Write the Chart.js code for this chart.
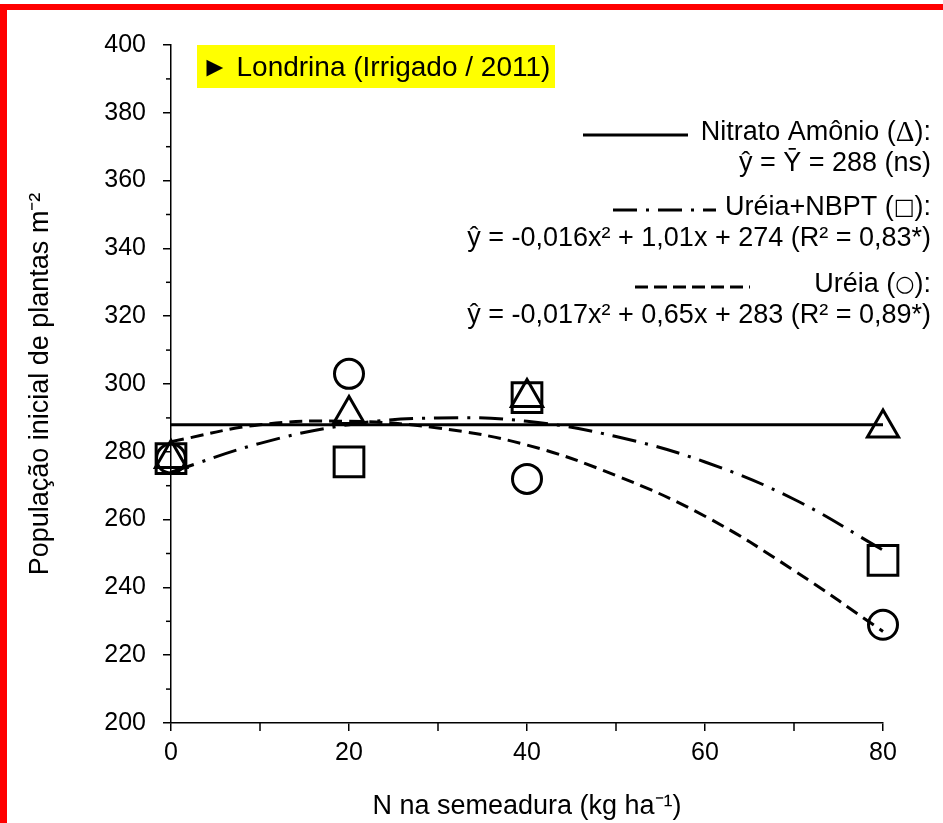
<!DOCTYPE html>
<html>
<head>
<meta charset="utf-8">
<script src="https://cdn.jsdelivr.net/npm/chart.js@4.4.0/dist/chart.umd.min.js"></script>
<style>
  html, body { margin: 0; padding: 0; background: #fff; }
  #wrap { position: relative; width: 943px; height: 823px; overflow: hidden; }
  #frame { position: absolute; left: 0; top: 4px; width: 943px; height: 819px;
           border-left: 7px solid #ff0000; border-top: 6px solid #ff0000;
           box-sizing: border-box; pointer-events: none; }
</style>
</head>
<body>
<div id="wrap">
  <canvas id="myChart" width="943" height="823"></canvas>
  <div id="frame"></div>
</div>
<script>
// doses de N (kg/ha)
const doses = [0, 20, 40, 80];
// valores observados
const nitratoObs = [278, 291, 296, 287];
const nbptObs = [278, 277, 296, 248];
const ureiaObs = [278, 303, 272, 229];

// curvas ajustadas
const curveX = [0, 10, 20, 30, 40, 50, 60, 70, 80];
const nitratoCurve = [288, 288, 288, 288, 288, 288, 288, 288, 288];
const nbptCurve = [274, 282.5, 288, 290, 289, 284.5, 277, 266, 251];
const ureiaCurve = [283, 288, 289, 287, 282, 273, 261, 245, 227];

// eixos
const xTicks = [0, 20, 40, 60, 80];
const yTicks = [200, 220, 240, 260, 280, 300, 320, 340, 360, 380, 400];

// textos
const titleText = '► Londrina (Irrigado / 2011)';
const legendNames = ['Nitrato Amônio (', 'Uréia+NBPT (', 'Uréia ('];
const legendSymbols = ['Δ', '□', '○'];
const legendEquations = [
  'ŷ = Ȳ = 288 (ns)',
  'ŷ = -0,016x² + 1,01x + 274 (R² = 0,83*)',
  'ŷ = -0,017x² + 0,65x + 283 (R² = 0,89*)'
];
const xTitle = 'N na semeadura (kg ha⁻¹)';
const yTitle = 'População inicial de plantas m⁻²';

const FONT = '"Liberation Sans", Arial, sans-serif';
const toPts = (xs, ys) => xs.map((x, i) => ({ x: x, y: ys[i] }));

// traços menores, caixa de título e legenda
const extras = {
  id: 'extras',
  afterDraw(chart) {
    const ctx = chart.ctx;
    const xs = chart.scales.x, ys = chart.scales.y;
    ctx.save();
    // ticks menores
    ctx.strokeStyle = '#000';
    ctx.lineWidth = 1.5;
    for (let v = 10; v < 80; v += 20) {
      const px = xs.getPixelForValue(v);
      ctx.beginPath(); ctx.moveTo(px, xs.top); ctx.lineTo(px, xs.top + 8); ctx.stroke();
    }
    for (let v = 210; v < 400; v += 20) {
      const py = ys.getPixelForValue(v);
      ctx.beginPath(); ctx.moveTo(ys.right - 5, py); ctx.lineTo(ys.right, py); ctx.stroke();
    }

    // título
    ctx.fillStyle = '#ffff00';
    ctx.fillRect(197, 45, 358, 43);
    ctx.fillStyle = '#000';
    ctx.font = '28px ' + FONT;
    ctx.textBaseline = 'middle';
    ctx.textAlign = 'left';
    ctx.fillText(titleText, 201, 68);

    // legenda
    const rightX = 931;
    const rows = [133, 208, 285];
    const samples = [[583, 688, []], [613, 716, [24, 9, 3, 9]], [635, 750, [13, 6]]];
    ctx.textAlign = 'right';
    legendNames.forEach((name, i) => {
      const y = rows[i];
      let x = rightX;
      ctx.font = '27px ' + FONT;
      ctx.fillText('):', x, y);
      x -= ctx.measureText('):').width;
      ctx.font = (i === 0 ? '29px "Liberation Serif", serif' : '22px "DejaVu Sans", sans-serif');
      ctx.fillText(legendSymbols[i], x, y);
      x -= ctx.measureText(legendSymbols[i]).width;
      ctx.font = '27px ' + FONT;
      ctx.fillText(name, x, y);
      ctx.fillText(legendEquations[i], rightX, y + 31);
      const s = samples[i];
      ctx.beginPath();
      ctx.setLineDash(s[2]);
      ctx.lineWidth = 3;
      ctx.moveTo(s[0], y + 2);
      ctx.lineTo(s[1], y + 2);
      ctx.stroke();
    });
    ctx.restore();
  }
};

const lineStyle = { showLine: true, pointRadius: 0, borderColor: '#000', borderWidth: 3, fill: false, tension: 0.4, clip: false };
const markStyle = { showLine: false, borderColor: '#000', backgroundColor: 'rgba(0,0,0,0)', pointBorderWidth: 3, clip: false };

const ctx = document.getElementById('myChart').getContext('2d');
new Chart(ctx, {
  type: 'scatter',
  data: {
    datasets: [
      Object.assign({ label: 'Nitrato Amônio', data: toPts(doses, nitratoObs), pointStyle: 'triangle', pointRadius: 18 }, markStyle),
      Object.assign({ label: 'Uréia+NBPT', data: toPts(doses, nbptObs), pointStyle: 'rect', pointRadius: 21 }, markStyle),
      Object.assign({ label: 'Uréia', data: toPts(doses, ureiaObs), pointStyle: 'circle', pointRadius: 14.5 }, markStyle),
      Object.assign({ label: 'Nitrato ajuste', data: toPts(curveX, nitratoCurve) }, lineStyle),
      Object.assign({ label: 'NBPT ajuste', data: toPts(curveX, nbptCurve), borderDash: [24, 9, 3, 9] }, lineStyle),
      Object.assign({ label: 'Uréia ajuste', data: toPts(curveX, ureiaCurve), borderDash: [13, 7] }, lineStyle)
    ]
  },
  options: {
    responsive: false,
    animation: false,
    layout: { padding: { top: 45, right: 60, bottom: 0, left: 0 } },
    plugins: { legend: { display: false }, tooltip: { enabled: false }, title: { display: false } },
    scales: {
      x: {
        type: 'linear', min: 0, max: 80,
        afterFit(s) { s.height = 100; },
        afterBuildTicks(s) { s.ticks = xTicks.map(v => ({ value: v })); },
        ticks: { color: '#000', font: { family: FONT, size: 25 }, padding: 7 },
        grid: { drawOnChartArea: false, drawTicks: true, tickLength: 8, color: '#000', lineWidth: 1.5 },
        border: { display: true, color: '#000', width: 1.5 },
        title: { display: true, text: xTitle, color: '#000', font: { family: FONT, size: 27 }, padding: { top: 0, bottom: 0 } }
      },
      y: {
        type: 'linear', min: 200, max: 400,
        afterFit(s) { s.width = 171; },
        afterBuildTicks(s) { s.ticks = yTicks.map(v => ({ value: v })); },
        ticks: { color: '#000', font: { family: FONT, size: 25 }, padding: 17 },
        grid: { drawOnChartArea: false, drawTicks: true, tickLength: 8, color: '#000', lineWidth: 1.5 },
        border: { display: true, color: '#000', width: 1.5 },
        title: { display: true, text: yTitle, color: '#000', font: { family: FONT, size: 27 }, padding: { top: 24, bottom: 0 } }
      }
    }
  },
  plugins: [extras]
});
</script>
</body>
</html>
